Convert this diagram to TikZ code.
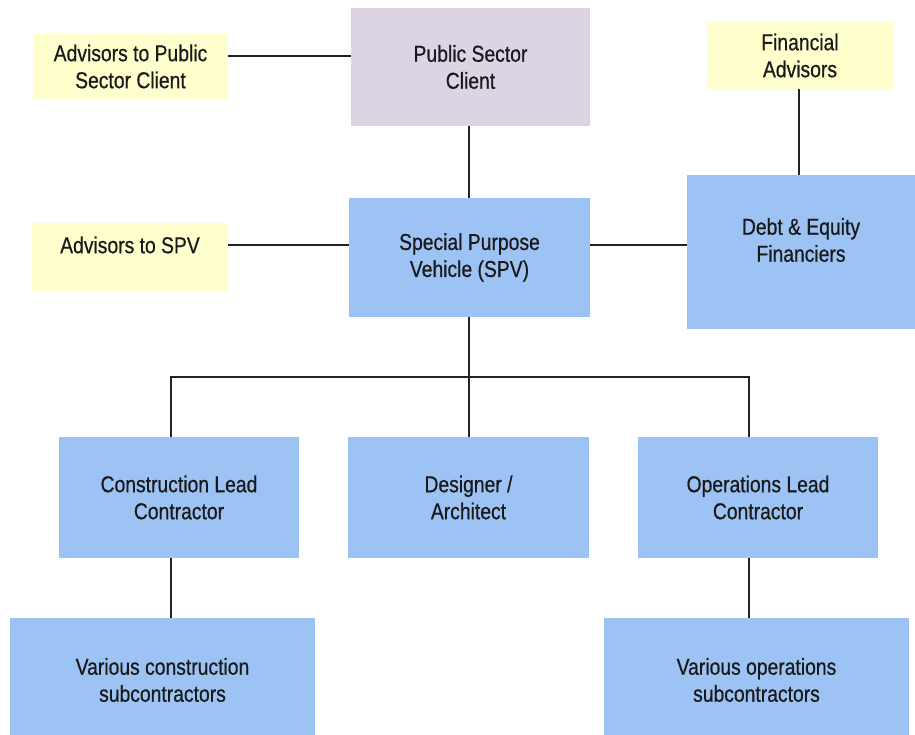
\documentclass[tikz,border=0pt]{standalone}
\usepackage{fontspec}
\setmainfont{Liberation Sans}[FakeStretch=0.84,FakeBold=0.6]
\definecolor{boxblue}{RGB}{157,195,245}
\definecolor{boxlav}{RGB}{220,211,227}
\definecolor{boxyel}{RGB}{255,255,206}
\definecolor{txt}{RGB}{25,25,25}
\definecolor{ln}{RGB}{35,35,35}
\begin{document}
\begin{tikzpicture}[x=1pt,y=1pt,
  box/.style={rectangle, draw=none, inner sep=0pt, align=center, text=txt,
    font=\fontsize{23}{27}\selectfont},
  bluebox/.style={box, fill=boxblue},
  lavbox/.style={box, fill=boxlav},
  yelbox/.style={box, fill=boxyel},
  conn/.style={draw=ln, line width=1.3pt}]
\useasboundingbox (0,0) rectangle (915,-734);
% yellow advisors
\node[yelbox, minimum width=195pt, minimum height=65pt] (advpsc) at (130.5,-66.5) {Advisors to Public\\Sector Client};
\node[yelbox, minimum width=196pt, minimum height=68pt,
  label={[box, yshift=12pt]center:Advisors to SPV}] (advspv) at (130,-257) {};
\node[yelbox, minimum width=186pt, minimum height=67pt] (finadv) at (800,-55.5) {Financial\\Advisors};
% main
\node[lavbox, minimum width=239pt, minimum height=118pt] (psc) at (470.5,-67) {Public Sector\\Client};
\node[bluebox, minimum width=241pt, minimum height=119pt] (spv) at (469.5,-257.5) {Special Purpose\\Vehicle (SPV)};
\node[bluebox, minimum width=228pt, minimum height=154pt,
  label={[box, yshift=12pt]center:Debt \& Equity\\Financiers}] (debt) at (801,-252) {};
% lower row
\node[bluebox, minimum width=240pt, minimum height=121pt] (con) at (179,-497.5) {Construction Lead\\Contractor};
\node[bluebox, minimum width=241pt, minimum height=121pt] (des) at (468.5,-497.5) {Designer /\\Architect};
\node[bluebox, minimum width=240pt, minimum height=121pt] (ops) at (758,-497.5) {Operations Lead\\Contractor};
% bottom row
\node[bluebox, minimum width=305pt, minimum height=124pt,
  label={[box, yshift=0pt]center:Various construction\\subcontractors}] (consub) at (162.5,-680) {};
\node[bluebox, minimum width=305pt, minimum height=124pt,
  label={[box, yshift=0pt]center:Various operations\\subcontractors}] (opssub) at (756.5,-680) {};
% junction coordinates
\coordinate (jl) at (171,-377);
\coordinate (jr) at (749,-377);
\coordinate (jm) at (469,-377);
% connectors
\draw[conn] ([yshift=10.5pt]advpsc.east) -- ([yshift=11pt]psc.west);
\draw[conn] ([xshift=-1.5pt]psc.south) -- ([xshift=-0.5pt]spv.north);
\draw[conn] ([yshift=12pt]advspv.east) -- ([yshift=12.5pt]spv.west);
\draw[conn] ([yshift=12.5pt]spv.east) -- ([yshift=7pt]debt.west);
\draw[conn] ([xshift=-1pt]finadv.south) -- ([xshift=-2pt]debt.north);
\draw[conn] ([xshift=-0.5pt]spv.south) -- (jm) -- ([xshift=0.5pt]des.north);
\draw[conn] (jl |- con.north) -- (jl) -- (jr) -- (jr |- ops.north);
\draw[conn] (jl |- con.south) -- (jl |- consub.north);
\draw[conn] (jr |- ops.south) -- (jr |- opssub.north);
\end{tikzpicture}
\end{document}
